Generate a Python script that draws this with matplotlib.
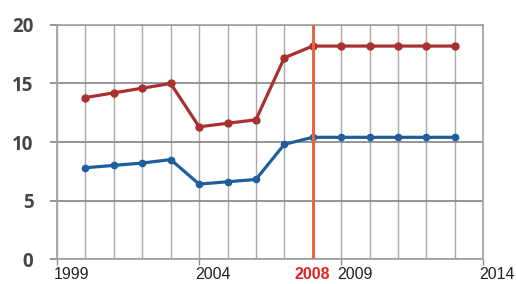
import matplotlib
matplotlib.use('Agg')
import matplotlib.pyplot as plt
import matplotlib.transforms as mtransforms

# данные
years = [2000, 2001, 2002, 2003, 2004, 2005, 2006, 2007, 2008, 2009, 2010, 2011, 2012, 2013]
red_values = [13.8, 14.2, 14.6, 15.0, 11.3, 11.6, 11.9, 17.2, 18.2, 18.2, 18.2, 18.2, 18.2, 18.2]
blue_values = [7.8, 8.0, 8.2, 8.5, 6.4, 6.6, 6.8, 9.8, 10.4, 10.4, 10.4, 10.4, 10.4, 10.4]
x_labels = [1999, 2004, 2009, 2014]
y_ticks = [0, 5, 10, 15, 20]
marker_year = 2008


def create_plot():
    fig = plt.figure(figsize=(5.16, 2.84), dpi=100)
    ax = fig.add_axes([0.1105, 0.088, 0.826, 0.824])

    ax.set_xlim(1999, 2014)
    ax.set_ylim(0, 20)

    # сетка: вертикальные линии каждый год, горизонтальные каждые 5
    ax.set_xticks(range(1999, 2015), minor=True)
    ax.set_xticks(x_labels)
    ax.set_xticklabels([''] * len(x_labels))
    ax.set_yticks(y_ticks)
    ax.set_yticklabels([str(v) for v in y_ticks], fontsize=13.5,
                       color='#464646', family='Open Sans', fontweight='bold')
    ax.grid(True, which='minor', axis='x', color='#a8a8a8', lw=1.0)
    ax.grid(True, which='major', axis='x', color='#a8a8a8', lw=1.0)
    ax.grid(True, axis='y', color='#8c8c8c', lw=1.3)
    ax.set_axisbelow(True)

    ax.tick_params(axis='x', which='major', length=4, color='#8c8c8c', width=1)
    ax.tick_params(axis='x', which='minor', length=0)
    ax.tick_params(axis='y', length=5, color='#8c8c8c', width=1.3, pad=12)
    for side in ['left', 'right', 'top', 'bottom']:
        ax.spines[side].set_color('#a0a0a0')
        ax.spines[side].set_linewidth(1.2)

    # подписи годов смещены вправо на полгода
    trans = mtransforms.blended_transform_factory(ax.transData, ax.transAxes)
    for yr in x_labels:
        ax.text(yr + 0.5, -0.035, str(yr), transform=trans, ha='center', va='top',
                fontsize=11.5, color='#222222', family='Liberation Sans')
    ax.text(marker_year, -0.035, str(marker_year), transform=trans, ha='center', va='top',
            fontsize=11.5, color='#e02424', fontweight='bold', family='Liberation Sans')

    ax.plot(years, red_values, '-o', color='#a8302f', lw=2.3, markersize=5,
            zorder=3)
    ax.plot(years, blue_values, '-o', color='#1f5e9c', lw=2.3, markersize=4.5,
            zorder=3)
    ax.axvline(marker_year, color='#ea6440', lw=2.2, zorder=4)

    fig.savefig('out.png', dpi=100)


if __name__ == "__main__":
    create_plot()
